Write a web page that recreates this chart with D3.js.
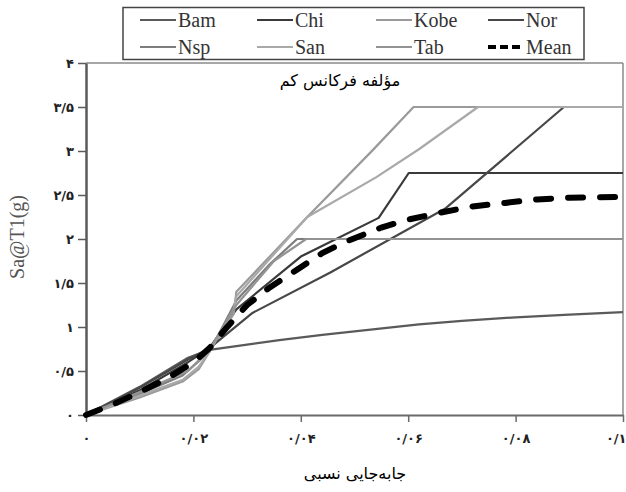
<!DOCTYPE html>
<html>
<head>
<meta charset="utf-8">
<script src="https://cdn.jsdelivr.net/npm/d3@7"></script>
<style>
  html, body { margin: 0; padding: 0; background: #fff; }
  svg { display: block; }
</style>
</head>
<body>
<svg id="chart" width="626" height="492"></svg>
<script>
// Spectral acceleration at T1 versus relative drift, one curve per record plus the mean
const seriesNames = ["Bam", "Chi", "Kobe", "Nor", "Nsp", "San", "Tab"];
const seriesColors = ["#5a5a5a", "#3a3a3a", "#9a9a9a", "#474747", "#7d7d7d", "#a9a9a9", "#939393"];

// [drift, Sa(g)] pairs
const bam = [[0,0],[0.01,0.32],[0.019,0.65],[0.023,0.74],[0.03,0.80],[0.036,0.85],[0.044,0.91],[0.05,0.95],[0.062,1.03],[0.07,1.07],[0.08,1.11],[0.09,1.14],[0.1,1.17]];
const chi = [[0,0],[0.01,0.28],[0.019,0.6],[0.023,0.76],[0.028,1.2],[0.04,1.80],[0.0545,2.24],[0.0601,2.75],[0.1,2.75]];
const kobe = [[0,0],[0.01,0.2],[0.018,0.38],[0.021,0.52],[0.023,0.72],[0.0275,1.15],[0.028,1.4],[0.0412,2.25],[0.0534,3.01],[0.061,3.5],[0.1,3.5]];
const nor = [[0,0],[0.01,0.31],[0.019,0.63],[0.023,0.76],[0.031,1.16],[0.0455,1.62],[0.067,2.35],[0.089,3.5],[0.1,3.5]];
const nsp = [[0,0],[0.01,0.24],[0.018,0.45],[0.023,0.72],[0.028,1.3],[0.034,1.7],[0.0393,2.0],[0.1,2.0]];
const san = [[0,0],[0.01,0.22],[0.018,0.4],[0.021,0.55],[0.023,0.72],[0.0275,1.2],[0.028,1.35],[0.0412,2.25],[0.054,2.70],[0.062,3.02],[0.073,3.5],[0.1,3.5]];
const tab = [[0,0],[0.01,0.26],[0.019,0.5],[0.023,0.74],[0.028,1.25],[0.035,1.75],[0.041,2.0],[0.1,2.0]];
const mean = [[0,0],[0.005,0.12],[0.01,0.26],[0.015,0.41],[0.02,0.6],[0.023,0.76],[0.026,0.98],[0.03,1.25],[0.034,1.44],[0.04,1.68],[0.044,1.84],[0.048,1.96],[0.055,2.13],[0.06,2.22],[0.066,2.30],[0.072,2.37],[0.078,2.41],[0.084,2.45],[0.09,2.47],[0.1,2.48]];

const xTicks = [0, 0.02, 0.04, 0.06, 0.08, 0.1];
const xTickLabels = ["۰", "۰/۰۲", "۰/۰۴", "۰/۰۶", "۰/۰۸", "۰/۱"];
const yTicks = [0, 0.5, 1, 1.5, 2, 2.5, 3, 3.5, 4];
const yTickLabels = ["۰", "۰/۵", "۱", "۱/۵", "۲", "۲/۵", "۳", "۳/۵", "۴"];

const titleText = "مؤلفه فرکانس کم";
const xTitle = "جابه\u200cجایی نسبی";
const yTitle = "Sa@T1(g)";

const seriesData = [bam, chi, kobe, nor, nsp, san, tab];

const svg = d3.select("#chart");
const plotLeft = 86, plotRight = 623, plotTop = 63, plotBottom = 415;

const x = d3.scaleLinear().domain([0, 0.1]).range([plotLeft, plotRight]);
const y = d3.scaleLinear().domain([0, 4]).range([plotBottom, plotTop]);

// frame: top and right edges
svg.append("line").attr("x1", plotLeft).attr("x2", plotRight).attr("y1", plotTop).attr("y2", plotTop)
  .attr("stroke", "#8a8a8a").attr("stroke-width", 1.5);
svg.append("line").attr("x1", plotRight).attr("x2", plotRight).attr("y1", plotTop).attr("y2", plotBottom)
  .attr("stroke", "#8a8a8a").attr("stroke-width", 1.5);

// axes
const xAxis = svg.append("g").attr("transform", `translate(0,${plotBottom})`)
  .call(d3.axisBottom(x).tickValues(xTicks).tickFormat((d, i) => xTickLabels[i])
    .tickSize(7).tickSizeOuter(0).tickPadding(12));
xAxis.select(".domain").attr("stroke", "#6a6a6a").attr("stroke-width", 2);
xAxis.selectAll(".tick line").attr("stroke", "#6a6a6a").attr("stroke-width", 1.5);
xAxis.selectAll("text").attr("font-family", "DejaVu Sans").attr("font-size", 13)
  .attr("font-weight", "bold").attr("fill", "#222");
// the last label sits against the right edge of the page
xAxis.selectAll(".tick").filter(d => d === 0.1).select("text")
  .attr("text-anchor", "end").attr("x", 3);

const yAxis = svg.append("g").attr("transform", `translate(${plotLeft},0)`)
  .call(d3.axisLeft(y).tickValues(yTicks).tickFormat((d, i) => yTickLabels[i])
    .tickSize(8).tickSizeOuter(0).tickPadding(4));
yAxis.select(".domain").attr("stroke", "#5a5a5a").attr("stroke-width", 2.5);
yAxis.selectAll(".tick line").attr("stroke", "#5a5a5a").attr("stroke-width", 1.5);
yAxis.selectAll("text").attr("font-family", "DejaVu Sans").attr("font-size", 13)
  .attr("font-weight", "bold").attr("fill", "#222");

// curves
const line = d3.line().x(d => x(d[0])).y(d => y(d[1]));
svg.append("g").selectAll("path").data(seriesData).join("path")
  .attr("d", line)
  .attr("fill", "none")
  .attr("stroke", (d, i) => seriesColors[i])
  .attr("stroke-width", 2.2)
  .attr("stroke-linejoin", "round");

svg.append("path").datum(mean).attr("d", line)
  .attr("fill", "none").attr("stroke", "#000").attr("stroke-width", 6)
  .attr("stroke-linecap", "round").attr("stroke-dasharray", "15,17");

// titles
svg.append("text").attr("x", 340).attr("y", 86).attr("text-anchor", "middle")
  .attr("font-family", "DejaVu Sans").attr("font-size", 16).attr("fill", "#000")
  .attr("direction", "rtl").text(titleText);

svg.append("text").attr("x", 355).attr("y", 479).attr("text-anchor", "middle")
  .attr("font-family", "DejaVu Sans").attr("font-size", 16).attr("fill", "#000")
  .attr("direction", "rtl").text(xTitle);

svg.append("text").attr("transform", "translate(24,237) rotate(-90)")
  .attr("text-anchor", "middle").attr("font-family", "Liberation Serif")
  .attr("font-size", 20).attr("fill", "#555").text(yTitle);

// legend
const legendNames = seriesNames.concat(["Mean"]);
const legendColors = seriesColors.concat(["#000"]);
const colX = [140, 257, 376, 488];
const rowY = [20, 47];
svg.append("rect").attr("x", 123).attr("y", 7.5).attr("width", 461).attr("height", 52)
  .attr("fill", "#fff").attr("stroke", "#444").attr("stroke-width", 1.5);
const items = svg.append("g").selectAll("g").data(legendNames).join("g")
  .attr("transform", (d, i) => `translate(${colX[i % 4]},${rowY[Math.floor(i / 4)]})`);
items.append("line").attr("x1", 0).attr("x2", 36).attr("y1", 0).attr("y2", 0)
  .attr("stroke", (d, i) => legendColors[i])
  .attr("stroke-width", (d, i) => d === "Mean" ? 4 : 2)
  .attr("stroke-dasharray", d => d === "Mean" ? "8,4" : null);
items.append("text").attr("x", 38).attr("y", 6.5)
  .attr("font-family", "Liberation Serif").attr("font-size", 20).attr("fill", "#333")
  .text(d => d);
</script>
</body>
</html>
